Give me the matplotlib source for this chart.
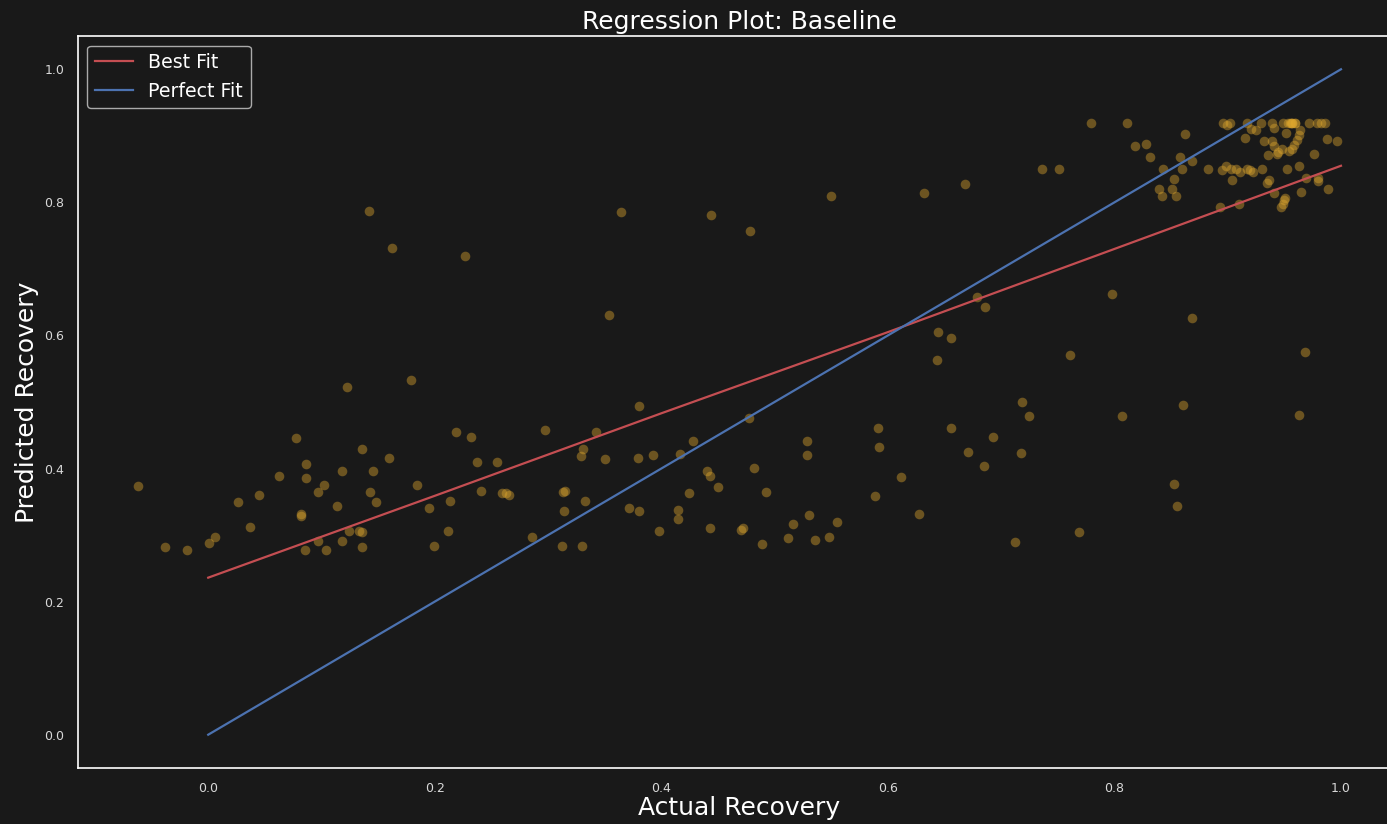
import matplotlib
matplotlib.use("Agg")
import matplotlib.pyplot as plt

# scatter: actual vs predicted recovery
actual = [
    0.1418, 0.1624, 0.1227, 0.179, 0.0774, 0.1362, 0.160, 0.0865, 0.118, 0.1453,
    0.0627, 0.0865, -0.0618, 0.1845, 0.1024, 0.0965, 0.143, 0.0444, 0.0265, 0.1477,
    0.1135, 0.0821, 0.0821, 0.0365, 0.1244, 0.1327, 0.1356, 0.0062, 0.0003, 0.0965,
    0.118, -0.0382, -0.0188, 0.085, 0.1044, 0.1362,
    0.2268, 0.3648, 0.444, 0.3536, 0.3807, 0.2189, 0.2324, 0.2969, 0.3422, 0.4283,
    0.3313, 0.3289, 0.350, 0.3795, 0.393, 0.4169, 0.237, 0.255, 0.4407, 0.443,
    0.4499, 0.2404, 0.2597, 0.2628, 0.2654, 0.3128, 0.3151, 0.3322, 0.1953, 0.2133,
    0.4248, 0.3719, 0.3807, 0.3138, 0.4144, 0.4144, 0.212, 0.2855, 0.3977, 0.443,
    0.1995, 0.3119, 0.3298,
    0.4781, 0.5494, 0.6322, 0.6684, 0.6783, 0.6854, 0.6446, 0.656, 0.6434, 0.4772,
    0.5914, 0.656, 0.529, 0.5925, 0.6929, 0.529, 0.6703, 0.4816, 0.685, 0.4928,
    0.6116, 0.589, 0.6275, 0.5302, 0.5166, 0.5552, 0.4707, 0.4725, 0.4893, 0.5119,
    0.536, 0.5484, 0.7126,
    0.7793, 0.8111, 0.7361, 0.7511, 0.8179, 0.8279, 0.862, 0.8314, 0.8576, 0.8688,
    0.8429, 0.8597, 0.8529, 0.8394, 0.8417, 0.8505, 0.854, 0.8823,
    0.8947, 0.8982, 0.9026, 0.9073, 0.9109, 0.9173, 0.9197, 0.922, 0.930,
    0.904, 0.8935, 0.9097, 0.9344, 0.9367, 0.9411, 0.947, 0.9485, 0.950, 0.9506,
    0.9526, 0.9629, 0.965, 0.9694, 0.9797, 0.9797, 0.9762, 0.9888, 0.9876, 0.9968,
    0.8961, 0.8991, 0.902, 0.9173, 0.9294, 0.9388, 0.9411, 0.949, 0.9535, 0.9564,
    0.9594, 0.972, 0.9785, 0.982, 0.9859, 0.955, 0.957, 0.959, 0.956,
    0.9203, 0.9247, 0.9153, 0.932, 0.9388, 0.9411, 0.9515, 0.9638, 0.9629, 0.9609,
    0.9588, 0.9565, 0.9541, 0.9353, 0.9435, 0.9447, 0.9476,
    0.7976, 0.8688, 0.7611, 0.9686, 0.7182, 0.7249, 0.8608, 0.8067, 0.9627,
    0.7176, 0.7688, 0.8526, 0.8553,
]
predicted = [
    0.787, 0.731, 0.5225, 0.5325, 0.4455, 0.430, 0.416, 0.4065, 0.397, 0.397,
    0.389, 0.386, 0.374, 0.376, 0.376, 0.364, 0.364, 0.360, 0.349, 0.349,
    0.343, 0.332, 0.329, 0.312, 0.3067, 0.3067, 0.305, 0.2967, 0.2877, 0.291,
    0.291, 0.2817, 0.2778, 0.2778, 0.2778, 0.2817,
    0.719, 0.785, 0.781, 0.6306, 0.4935, 0.4555, 0.4474, 0.4575, 0.4555, 0.4415,
    0.4297, 0.4182, 0.4145, 0.416, 0.4204, 0.4224, 0.4105, 0.4105, 0.397, 0.389,
    0.3724, 0.3664, 0.3625, 0.3625, 0.3604, 0.364, 0.3664, 0.3513, 0.3413, 0.3513,
    0.3625, 0.3413, 0.3357, 0.3357, 0.3378, 0.3243, 0.3067, 0.2973, 0.3067, 0.3108,
    0.2838, 0.2838, 0.2838,
    0.7577, 0.810, 0.8138, 0.8273, 0.6577, 0.642, 0.6058, 0.5958, 0.563, 0.4765,
    0.461, 0.461, 0.4414, 0.4324, 0.4474, 0.4204, 0.4244, 0.4014, 0.4034, 0.3649,
    0.3879, 0.3589, 0.3318, 0.3298, 0.3163, 0.3203, 0.3073, 0.3108, 0.2873, 0.2953,
    0.2933, 0.2973, 0.2893,
    0.9195, 0.9195, 0.850, 0.850, 0.885, 0.887, 0.9024, 0.8679, 0.8679, 0.8619,
    0.850, 0.850, 0.8348, 0.8198, 0.8098, 0.8198, 0.8098, 0.850,
    0.8483, 0.855, 0.850, 0.850, 0.846, 0.850, 0.8483, 0.846, 0.850,
    0.8333, 0.7932, 0.7968, 0.8293, 0.8333, 0.8138, 0.7928, 0.798, 0.8039, 0.8069,
    0.850, 0.8544, 0.8158, 0.837, 0.837, 0.8318, 0.873, 0.8198, 0.8949, 0.8929,
    0.9195, 0.916, 0.9195, 0.9195, 0.9195, 0.9195, 0.912, 0.9195, 0.9195, 0.9195,
    0.9195, 0.9195, 0.9195, 0.9195, 0.9195, 0.9195, 0.9195, 0.9195, 0.9195,
    0.9104, 0.9084, 0.8969, 0.8929, 0.8929, 0.8849, 0.904, 0.9084, 0.9009, 0.8934,
    0.8869, 0.8809, 0.8769, 0.8719, 0.873, 0.875, 0.880,
    0.6617, 0.6266, 0.571, 0.5746, 0.4995, 0.4785, 0.4955, 0.4785, 0.4805,
    0.4234, 0.3048, 0.3769, 0.3438,
]

# best fit line as drawn, and the perfect-fit diagonal
fit_x = [0.0, 0.2, 0.4, 0.6, 0.8, 1.0]
fit_y = [0.236, 0.359, 0.483, 0.605, 0.730, 0.855]
perfect = [0.0, 1.0]

bg = "#191919"
plt.rcParams["font.family"] = "DejaVu Sans"

fig = plt.figure(figsize=(13.87, 8.24), dpi=100, facecolor=bg)
ax = fig.add_axes([0.0562, 0.068, 0.9539, 0.8883], facecolor=bg)

ax.scatter(actual, predicted, s=48, color="#E0A82E", alpha=0.42, linewidths=0)
ax.plot(fit_x, fit_y, color="#C44E52", lw=1.6, label="Best Fit")
ax.plot(perfect, perfect, color="#4C72B0", lw=1.6, label="Perfect Fit")

ax.set_xlim(-0.115, 1.053)
ax.set_ylim(-0.05, 1.05)
ax.set_xticks([0.0, 0.2, 0.4, 0.6, 0.8, 1.0])
ax.set_yticks([0.0, 0.2, 0.4, 0.6, 0.8, 1.0])
ax.tick_params(length=0, labelsize=9, labelcolor="#d8d8d8", pad=10)

for side in ax.spines.values():
    side.set_color("white")
    side.set_linewidth(1.2)

ax.set_title("Regression Plot: Baseline", fontsize=18, color="white", pad=5)
ax.set_xlabel("Actual Recovery", fontsize=18, color="white", labelpad=1)
ax.set_ylabel("Predicted Recovery", fontsize=18, color="white", labelpad=4)

leg = ax.legend(loc="upper left", fontsize=13.7, facecolor=bg, edgecolor="#aaaaaa",
                labelcolor="white", framealpha=1.0)

fig.savefig("out.png", dpi=100, facecolor=bg)
